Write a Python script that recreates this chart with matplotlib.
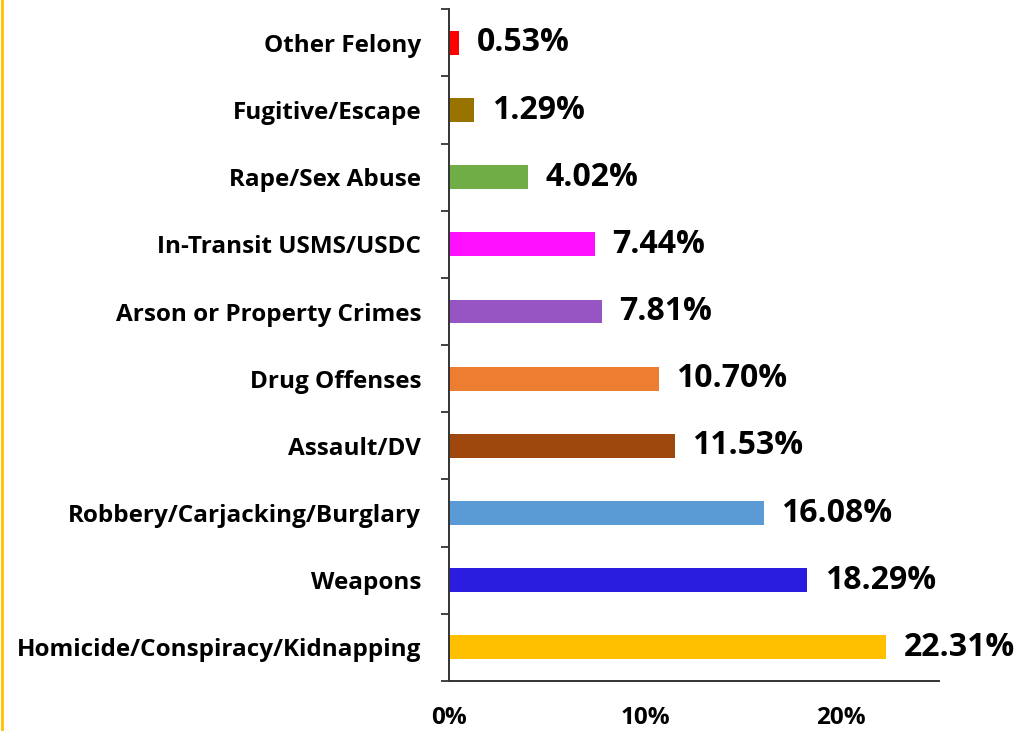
import numpy as np
import matplotlib.pyplot as plt
from matplotlib.lines import Line2D

# offense categories, bottom to top
categories = [
    "Homicide/Conspiracy/Kidnapping",
    "Weapons",
    "Robbery/Carjacking/Burglary",
    "Assault/DV",
    "Drug Offenses",
    "Arson or Property Crimes",
    "In-Transit USMS/USDC",
    "Rape/Sex Abuse",
    "Fugitive/Escape",
    "Other Felony",
]
shares = [22.31, 18.29, 16.08, 11.53, 10.70, 7.81, 7.44, 4.02, 1.29, 0.53]
colors = [
    "#FFC000", "#2B1DE0", "#5B9BD5", "#9E480E", "#ED7D31",
    "#9655C2", "#FF0FFF", "#70AD47", "#997300", "#FF0000",
]
xticks = [0, 10, 20]

plt.rcParams['font.family'] = ['Open Sans', 'DejaVu Sans']
plt.rcParams['font.weight'] = 'bold'

fig = plt.figure(figsize=(10.2, 7.31), dpi=100)
ax = fig.add_axes([0.4402, 0.0684, 0.4804, 0.9189])

y = np.arange(len(categories))
ax.barh(y, shares, height=0.355, color=colors)

for yi, v in zip(y, shares):
    ax.annotate(f"{v:.2f}%", xy=(v, yi), xytext=(12.5, 0), textcoords="offset points",
                va="center", ha="left", fontsize=23, fontweight="bold", color="black")

ax.set_xlim(0, 25)
ax.set_ylim(-0.5, len(categories) - 0.5)

ax.set_yticks(y)
ax.set_yticklabels(categories, fontsize=17.5, fontweight="bold")
ax.set_yticks(np.arange(len(categories) + 1) - 0.5, minor=True)
ax.tick_params(axis="y", which="major", length=0, pad=20)
ax.tick_params(axis="y", which="minor", length=6, width=1.3, color="#333333")

ax.set_xticks(xticks)
ax.set_xticklabels([f"{t}%" for t in xticks], fontsize=17.5, fontweight="bold")
ax.tick_params(axis="x", length=0, pad=18)

for side in ["top", "right"]:
    ax.spines[side].set_visible(False)
for side in ["left", "bottom"]:
    ax.spines[side].set_linewidth(1.4)
    ax.spines[side].set_color("#333333")

# thin accent rule along the left edge of the figure
fig.add_artist(Line2D([0.0015, 0.0015], [0, 1], transform=fig.transFigure,
                      color="#FFC000", linewidth=2))

fig.savefig("out.png", dpi=100)
